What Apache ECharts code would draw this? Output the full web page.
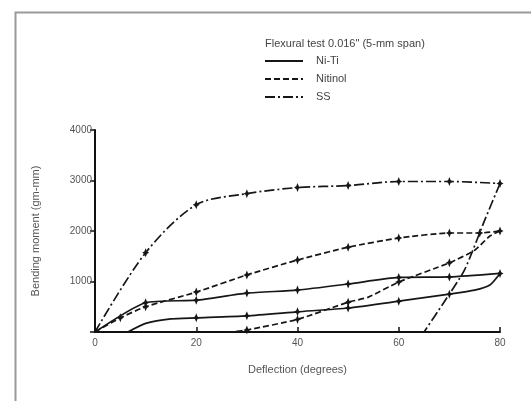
<!DOCTYPE html>
<html>
<head>
<meta charset="utf-8">
<script src="https://cdn.jsdelivr.net/npm/echarts@6/dist/echarts.min.js"></script>
<style>html,body{margin:0;padding:0;background:#fff}#c{width:531px;height:401px}</style>
</head>
<body>
<div id="c"></div>
<script>
// Data (deflection in degrees, bending moment in gm-mm)
const nitiLoadX    = [0, 10, 20, 30, 40, 50, 60, 70, 80];
const nitiLoadY    = [0, 580, 630, 770, 830, 950, 1080, 1090, 1160];
const nitiUnloadX  = [80, 78, 75, 70, 60, 50, 40, 30, 20, 15, 10, 6.5];
const nitiUnloadY  = [1160, 930, 830, 750, 610, 475, 400, 320, 280, 260, 170, 0];

const nitinolLoadX   = [0, 5, 10, 20, 30, 40, 50, 60, 70, 76, 80];
const nitinolLoadY   = [0, 280, 500, 790, 1130, 1425, 1680, 1860, 1960, 1960, 2000];
const nitinolUnloadX = [80, 78, 75, 70, 60, 54, 50, 40, 30, 27];
const nitinolUnloadY = [2000, 1900, 1620, 1370, 990, 690, 590, 250, 40, 0];

const ssLoadX   = [0, 10, 20, 30, 40, 50, 60, 70, 80];
const ssLoadY   = [0, 1570, 2520, 2740, 2860, 2900, 2980, 2980, 2940];
const ssUnloadX = [80, 77, 73, 69, 65];
const ssUnloadY = [2940, 2220, 1230, 600, 0];

const xTicks = [0, 20, 40, 60, 80];
const yTicks = [1000, 2000, 3000, 4000];

const legendTitle = 'Flexural test 0.016" (5-mm span)';
const legendNames = ['Ni-Ti', 'Nitinol', 'SS'];

function pairs(xs, ys) { return xs.map((x, i) => [x, ys[i]]); }

const markerPath = 'path://M0,-4L1.1,-1.1L3,0L1.1,1.1L0,4L-1.1,1.1L-3,0L-1.1,-1.1Z';
const markLoad = (v) => (v[1] > 0 ? markerPath : 'none');
const markUnload = (v) => (v[0] % 10 === 0 && v[0] < 80 && v[1] > 0 && v[0] >= 20 ? markerPath : 'none');

const dashN = [6, 3];
const dashSS = [10, 3, 2, 3];
const col = '#161616';

function mk(name, data, dash, sym, smooth) {
  return {
    type: 'line', name: name, data: data, smooth: smooth,
    symbol: sym, symbolSize: [7, 9], showAllSymbol: true,
    itemStyle: { color: col },
    lineStyle: { color: col, width: 1.7, type: dash },
    animation: false, z: 3
  };
}

const chart = echarts.init(document.getElementById('c'));
const txt = { fontFamily: 'Liberation Sans, Arial, sans-serif', color: '#555' };

chart.setOption({
  backgroundColor: '#fff',
  animation: false,
  grid: { left: 95, right: 31, top: 130, bottom: 69 },
  xAxis: {
    type: 'value', min: 0, max: 80, interval: 20,
    name: 'Deflection (degrees)', nameLocation: 'middle', nameGap: 32,
    nameTextStyle: Object.assign({ fontSize: 11 }, txt),
    axisLine: { show: true, lineStyle: { color: '#111', width: 2 } },
    axisTick: { show: true, inside: true, length: 5, lineStyle: { color: '#111', width: 1.5 } },
    axisLabel: Object.assign({ fontSize: 10, margin: 6, formatter: (v) => xTicks.includes(v) ? String(v) : '' }, txt),
    splitLine: { show: false }
  },
  yAxis: {
    type: 'value', min: 0, max: 4000, interval: 1000,
    name: 'Bending moment (gm-mm)', nameLocation: 'middle', nameGap: 54,
    nameTextStyle: Object.assign({ fontSize: 11 }, txt),
    axisLine: { show: true, lineStyle: { color: '#111', width: 2 } },
    axisTick: { show: true, inside: false, length: 5, lineStyle: { color: '#111', width: 1.5 } },
    axisLabel: Object.assign({ fontSize: 10, margin: 3, formatter: (v) => yTicks.includes(v) ? String(v) : '' }, txt),
    splitLine: { show: false }
  },
  series: [
    mk('Ni-Ti', pairs(nitiLoadX, nitiLoadY), 'solid', markLoad, 0.2),
    mk('Ni-Ti unload', pairs(nitiUnloadX, nitiUnloadY), 'solid', markUnload, 0.2),
    mk('Nitinol', pairs(nitinolLoadX, nitinolLoadY), dashN, markLoad, 0.2),
    mk('Nitinol unload', pairs(nitinolUnloadX, nitinolUnloadY), dashN, markUnload, 0.2),
    mk('SS', pairs(ssLoadX, ssLoadY), dashSS, markLoad, 0.3),
    mk('SS unload', pairs(ssUnloadX, ssUnloadY), dashSS, 'none', 0.2)
  ],
  graphic: [
    { type: 'rect', left: 13, top: 10, shape: { width: 600, height: 500 }, style: { fill: 'none', stroke: '#9a9a9a', lineWidth: 2 }, silent: true },
    { type: 'text', left: 265, top: 38, style: { text: legendTitle, font: '11px Liberation Sans, Arial, sans-serif', fill: '#444' } },
    { type: 'line', shape: { x1: 265, y1: 61, x2: 303, y2: 61 }, style: { stroke: col, lineWidth: 1.8 } },
    { type: 'text', left: 316, top: 55, style: { text: legendNames[0], font: '11px Liberation Sans, Arial, sans-serif', fill: '#444' } },
    { type: 'line', shape: { x1: 265, y1: 79, x2: 303, y2: 79 }, style: { stroke: col, lineWidth: 1.8, lineDash: dashN } },
    { type: 'text', left: 316, top: 73, style: { text: legendNames[1], font: '11px Liberation Sans, Arial, sans-serif', fill: '#444' } },
    { type: 'line', shape: { x1: 265, y1: 97, x2: 303, y2: 97 }, style: { stroke: col, lineWidth: 1.8, lineDash: dashSS } },
    { type: 'text', left: 316, top: 91, style: { text: legendNames[2], font: '11px Liberation Sans, Arial, sans-serif', fill: '#444' } }
  ]
});
</script>
</body>
</html>
